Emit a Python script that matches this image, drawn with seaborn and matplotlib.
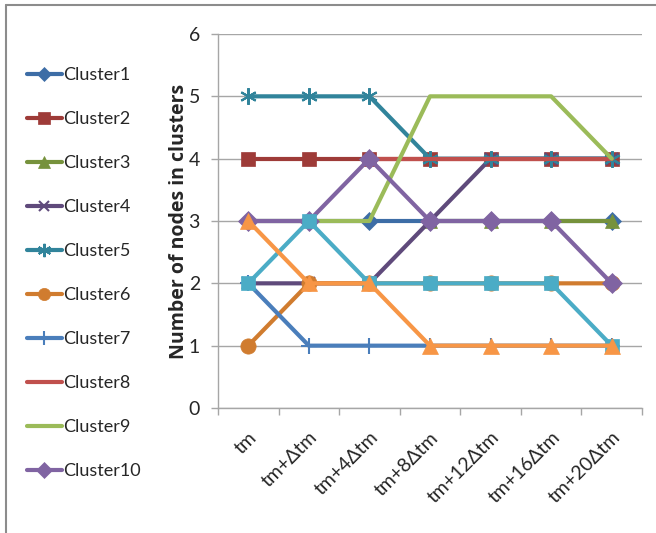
import numpy as np
import pandas as pd
import seaborn as sns
import matplotlib
matplotlib.use("Agg")
import matplotlib.pyplot as plt
from matplotlib.lines import Line2D

# Time steps on the x axis
time_labels = ["tm", "tm+\u0394tm", "tm+4\u0394tm", "tm+8\u0394tm",
               "tm+12\u0394tm", "tm+16\u0394tm", "tm+20\u0394tm"]

# Number of nodes per cluster at each time step (NaN = cluster not present)
cluster1 = [3, 3, 3, 3, 3, 3, 3]
cluster2 = [4, 4, 4, 4, 4, 4, 4]
cluster3 = [np.nan, np.nan, np.nan, 3, 3, 3, 3]
cluster4 = [2, 2, 2, 3, 4, 4, 4]
cluster5 = [5, 5, 5, 4, 4, 4, 4]
cluster6 = [1, 2, 2, 2, 2, 2, 2]
cluster7 = [2, 1, 1, 1, 1, 1, 1]
cluster8 = [np.nan, np.nan, 4, 4, 4, 4, 4]
cluster9 = [3, 3, 3, 5, 5, 5, 4]
cluster10 = [3, 3, 4, 3, 3, 3, 2]
cluster11 = [2, 3, 2, 2, 2, 2, 1]
cluster12 = [3, 2, 2, 1, 1, 1, 1]

series_names = ["Cluster1", "Cluster2", "Cluster3", "Cluster4", "Cluster5",
                "Cluster6", "Cluster7", "Cluster8", "Cluster9", "Cluster10",
                "Cluster11", "Cluster12"]
series_values = [cluster1, cluster2, cluster3, cluster4, cluster5, cluster6,
                 cluster7, cluster8, cluster9, cluster10, cluster11, cluster12]

colors = ["#3D6DA6", "#9E3B38", "#76923C", "#5F4A7B", "#31849B", "#D07C2F",
          "#4A7EBB", "#C0504D", "#9BBB59", "#8064A2", "#4BACC6", "#F79646"]
markers = ["D", "s", "^", "x", (6, 2, 0), "o", "+", None, None, "D", "s", "^"]
msizes = [9, 10, 10, 9, 12, 11, 12, 0, 0, 10, 10, 11]

sns.set_theme(style="white")
plt.rcParams["font.family"] = ["Lato", "DejaVu Sans"]

fig = plt.figure(figsize=(6.56, 5.33), dpi=100)
ax = fig.add_axes([218 / 656, 125 / 533, 424 / 656, 374 / 533])

positions = np.arange(len(time_labels))
for name, vals, col, mk, ms in zip(series_names, series_values, colors, markers, msizes):
    df = pd.DataFrame({"step": positions, "nodes": vals}).dropna()
    kw = dict(color=col, linewidth=3, label=name, ax=ax)
    if mk is not None:
        kw.update(marker=mk, markersize=ms, markeredgecolor=col, markerfacecolor=col,
                  markeredgewidth=1.5 if mk in ("x", "+") or isinstance(mk, tuple) else 0.5)
    sns.lineplot(data=df, x="step", y="nodes", **kw)

ax.set_xlim(-0.5, len(time_labels) - 0.5)
ax.set_ylim(0, 6)
ax.set_yticks(range(0, 7))
ax.yaxis.grid(True, color="#A6A6A6", linewidth=1)
ax.xaxis.grid(False)
for s in ("top", "right"):
    ax.spines[s].set_visible(False)
for s in ("left", "bottom"):
    ax.spines[s].set_color("#A6A6A6")
    ax.spines[s].set_linewidth(1)

ax.set_xticks(positions)
ax.set_xticklabels(time_labels, rotation=45, ha="right", va="top",
                   rotation_mode="anchor", fontsize=14)
ax.tick_params(axis="x", length=0, pad=15)
ax.set_xticks(np.arange(-0.5, len(time_labels)), minor=True)
ax.tick_params(axis="x", which="minor", length=5, color="#A6A6A6", width=1, direction="out")
ax.tick_params(axis="y", length=5, color="#A6A6A6", width=1, direction="out",
               labelsize=14, pad=8)
ax.tick_params(axis="both", which="both", bottom=True, left=True)
ax.set_xlabel("")
ax.set_ylabel("Number of nodes in clusters", fontsize=14, fontweight="bold",
              family=["Open Sans", "DejaVu Sans"], labelpad=0)

handles, labels = ax.get_legend_handles_labels()
if ax.get_legend() is not None:
    ax.get_legend().remove()
fig.legend(handles[:10], labels[:10], loc="upper left", bbox_to_anchor=(20 / 656, 1 - 60 / 533),
           frameon=False, fontsize=13, handlelength=1.9, handletextpad=0.1,
           labelspacing=1.55, markerscale=0.8, borderaxespad=0)

# Outer chart frame (top and left edges)
fig.add_artist(Line2D([6 / 656, 1], [1 - 5 / 533, 1 - 5 / 533], transform=fig.transFigure,
                      color="#8C8C8C", linewidth=1.5))
fig.add_artist(Line2D([6 / 656, 6 / 656], [0, 1 - 5 / 533], transform=fig.transFigure,
                      color="#8C8C8C", linewidth=1.5))

fig.savefig("out.png", dpi=100)
